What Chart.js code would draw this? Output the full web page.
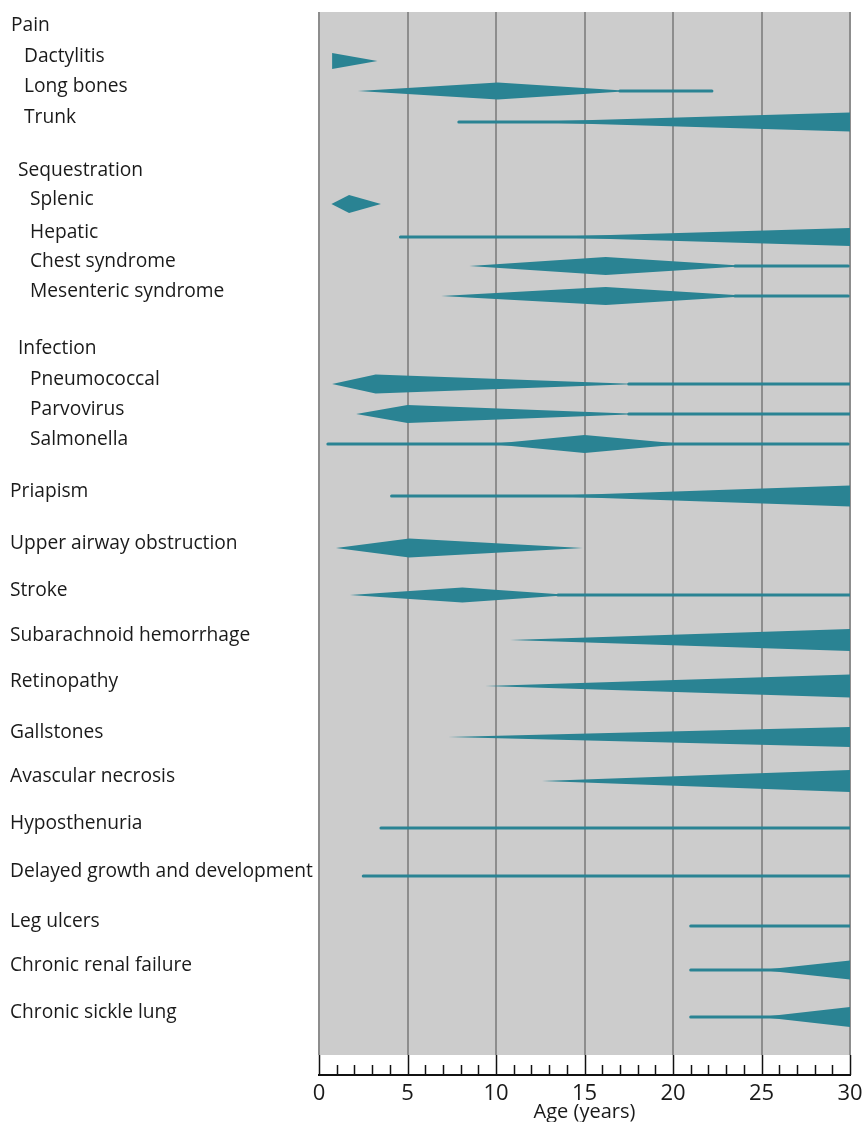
<!DOCTYPE html>
<html>
<head>
<meta charset="utf-8">
<title>Sickle cell complications by age</title>
<script src="https://cdn.jsdelivr.net/npm/chart.js@4.4.0/dist/chart.umd.min.js"></script>
<style>
  body { margin: 0; background: #fff; }
  canvas { display: block; }
</style>
</head>
<body>
<canvas id="ageChart" width="864" height="1122"></canvas>
<script>
// rows, top to bottom (group headings have no mark)
const rowLabels = [
  "Pain", "Dactylitis", "Long bones", "Trunk",
  "Sequestration", "Splenic", "Hepatic", "Chest syndrome", "Mesenteric syndrome",
  "Infection", "Pneumococcal", "Parvovirus", "Salmonella",
  "Priapism", "Upper airway obstruction", "Stroke", "Subarachnoid hemorrhage",
  "Retinopathy", "Gallstones", "Avascular necrosis", "Hyposthenuria",
  "Delayed growth and development", "Leg ulcers", "Chronic renal failure",
  "Chronic sickle lung"
];

// wedge: age where it starts, age of widest point, age where it ends (years)
const wedgeStart = [null, 0.74, 2.2, 11.6, null, 0.7, 12.6, 8.5, 6.9, null, 0.74, 2.1, 9.7, 12.7, 0.96, 1.75, 10.8, 9.4, 7.3, 12.6, null, null, null, 25.0, 25.0];
const wedgePeak  = [null, 0.74, 10.1, 30, null, 1.7, 30, 16.2, 16.2, null, 3.2, 5.0, 15.0, 30, 5.1, 8.1, 30, 30, 30, 30, null, null, null, 30, 30];
const wedgeEnd   = [null, 3.3, 17.6, 30, null, 3.5, 30, 24.2, 24.4, null, 18.0, 18.2, 20.6, 30, 14.9, 14.2, 30, 30, 30, 30, null, null, null, 30, 30];
// thickness at the widest point
const wedgeWidth = [null, 16, 17, 19, null, 18, 18, 18, 18, null, 19, 18, 18, 21, 19, 15, 22, 23, 20, 22, null, null, null, 19, 20];

// thin line: from / to age (years)
const lineFrom = [null, null, 17, 7.9, null, null, 4.6, 23.5, 23.5, null, 17.5, 17.5, 0.5, 4.1, null, 13.5, null, null, null, null, 3.5, 2.5, 21.0, 21.0, 21.0];
const lineTo   = [null, null, 22.2, 30, null, null, 30, 29.9, 29.9, null, 30, 30, 29.9, 30, null, 30, null, null, null, null, 30, 30, 30, 30, 30];

// layout: row centre on the y axis (1 unit = 10px) and label indent
const rowPos = [1.8, 4.9, 7.9, 11.0, 16.3, 19.2, 22.5, 25.4, 28.4, 34.1, 37.2, 40.2, 43.2, 48.4, 53.6, 58.3, 62.8, 67.4, 72.5, 76.9, 81.6, 86.4, 91.4, 95.8, 100.5];
const labelIndent = [11, 24, 24, 24, 18, 30, 30, 30, 30, 18, 30, 30, 30, 10, 10, 10, 10, 10, 10, 10, 10, 10, 10, 10, 10];
const unitPx = 10;

const teal = "#2a8393";
const font = '"Open Sans", "DejaVu Sans", sans-serif';

const datasets = [];
rowLabels.forEach((name, i) => {
  const c = rowPos[i];
  if (lineFrom[i] !== null) {
    datasets.push({
      label: name + " line",
      data: [{ x: lineFrom[i], y: c }, { x: lineTo[i], y: c }],
      showLine: true,
      fill: false,
      borderColor: teal,
      borderWidth: 3,
      borderCapStyle: "round",
      pointRadius: 0,
    });
  }
  if (wedgeStart[i] !== null) {
    const h = wedgeWidth[i] / 2 / unitPx;
    datasets.push({
      label: name,
      data: [
        { x: wedgeStart[i], y: c },
        { x: wedgePeak[i], y: c - h },
        { x: wedgeEnd[i], y: c },
        { x: wedgePeak[i], y: c + h },
        { x: wedgeStart[i], y: c },
      ],
      showLine: true,
      fill: "shape",
      backgroundColor: teal,
      borderColor: teal,
      borderWidth: 0,
      pointRadius: 0,
    });
  }
});

//plugins
const plotBackground = {
  id: "plotBackground",
  beforeDraw(chart) {
    const { ctx, chartArea } = chart;
    ctx.save();
    ctx.fillStyle = "#cccccc";
    ctx.fillRect(chartArea.left, chartArea.top, chartArea.right - chartArea.left, chartArea.bottom - chartArea.top);
    ctx.restore();
  },
};

const ageAxis = {
  id: "ageAxis",
  afterDraw(chart) {
    const { ctx, chartArea } = chart;
    const xs = chart.scales.x;
    const axisY = chartArea.bottom + 20;
    ctx.save();
    ctx.strokeStyle = "#111";
    ctx.lineWidth = 1.5;
    xs.ticks.forEach((t) => {
      const px = Math.round(xs.getPixelForValue(t.value)) + 0.5;
      const top = t.value % 5 === 0 ? chartArea.bottom : axisY - 10;
      ctx.beginPath();
      ctx.moveTo(px, top);
      ctx.lineTo(px, axisY);
      ctx.stroke();
    });
    ctx.lineWidth = 2;
    ctx.beginPath();
    ctx.moveTo(xs.getPixelForValue(0) - 1, axisY);
    ctx.lineTo(xs.getPixelForValue(30) + 1, axisY);
    ctx.stroke();
    ctx.restore();
  },
};

const rowNames = {
  id: "rowNames",
  afterDraw(chart) {
    const { ctx } = chart;
    const ys = chart.scales.y;
    ctx.save();
    ctx.font = "19.2px " + font;
    ctx.fillStyle = "#1a1a1a";
    ctx.textBaseline = "middle";
    ctx.textAlign = "left";
    rowLabels.forEach((name, i) => {
      ctx.fillText(name, labelIndent[i], ys.getPixelForValue(rowPos[i]) - 4.5);
    });
    ctx.restore();
  },
};

const config = {
  type: "scatter",
  data: { datasets: datasets },
  options: {
    responsive: false,
    animation: false,
    devicePixelRatio: 1,
    events: [],
    layout: { padding: { left: 319, right: 14, top: 12, bottom: 0 } },
    plugins: { legend: { display: false }, tooltip: { enabled: false } },
    scales: {
      x: {
        type: "linear",
        min: 0,
        max: 30,
        afterFit: (s) => {
          s.height = 67;
          s.paddingLeft = 0;
          s.paddingRight = 0;
        },
        ticks: {
          stepSize: 1,
          autoSkip: false,
          maxRotation: 0,
          padding: 26,
          color: "#1a1a1a",
          font: { family: font, size: 22 },
          callback: (v) => (v % 5 === 0 ? v : ""),
        },
        grid: {
          drawTicks: false,
          lineWidth: 2,
          color: (c) => (c.tick && c.tick.value % 5 === 0 ? "#8d8d8d" : "rgba(0,0,0,0)"),
        },
        border: { display: false },
        title: {
          display: true,
          text: "Age (years)",
          color: "#1a1a1a",
          font: { family: font, size: 20 },
          padding: { top: 0, bottom: -2 },
        },
      },
      y: {
        type: "linear",
        min: 0,
        max: 104.3,
        reverse: true,
        display: false,
      },
    },
  },
  plugins: [plotBackground, ageAxis, rowNames],
};

new Chart(document.getElementById("ageChart"), config);
</script>
</body>
</html>
